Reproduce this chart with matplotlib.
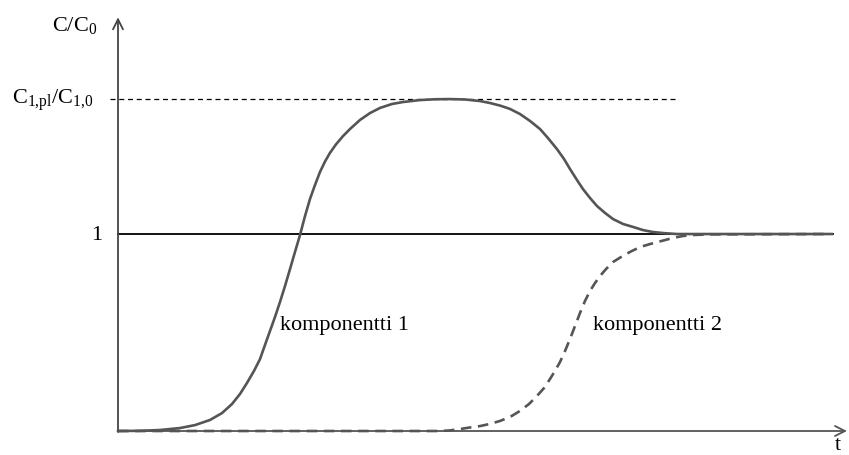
import matplotlib
matplotlib.use('Agg')
import matplotlib.pyplot as plt

plt.rcParams['font.family'] = ['Liberation Serif', 'DejaVu Serif']
plt.rcParams['mathtext.fontset'] = 'custom'
plt.rcParams['mathtext.rm'] = 'Liberation Serif'
plt.rcParams['mathtext.default'] = 'regular'

# breakthrough curves, time in arbitrary units, C/C0
t_comp1 = [0.0, 0.22, 0.42, 0.62, 0.77, 0.92, 1.04, 1.14, 1.22, 1.29, 1.36,
           1.42, 1.47, 1.52, 1.57, 1.62, 1.67, 1.72, 1.77, 1.82, 1.87, 1.92,
           1.97, 2.02, 2.07, 2.12, 2.18, 2.25, 2.32, 2.42, 2.52, 2.62, 2.74,
           2.85, 3.02, 3.17, 3.32, 3.47, 3.62, 3.72, 3.82, 3.92, 4.02, 4.12,
           4.22, 4.30, 4.39, 4.46, 4.52, 4.59, 4.65, 4.72, 4.79, 4.87, 4.95,
           5.05, 5.15, 5.25, 5.35, 5.47, 5.59, 7.12]
c_comp1 = [0.0, 0.001, 0.005, 0.015, 0.030, 0.056, 0.091, 0.137, 0.188,
           0.244, 0.305, 0.365, 0.437, 0.508, 0.579, 0.655, 0.736, 0.822,
           0.909, 0.995, 1.091, 1.178, 1.249, 1.315, 1.368, 1.412, 1.455,
           1.497, 1.533, 1.579, 1.614, 1.640, 1.660, 1.670, 1.680, 1.684,
           1.685, 1.683, 1.675, 1.665, 1.652, 1.635, 1.609, 1.574, 1.533,
           1.487, 1.431, 1.381, 1.330, 1.274, 1.228, 1.183, 1.142, 1.107,
           1.076, 1.051, 1.036, 1.020, 1.010, 1.004, 1.0, 1.0]

t_comp2 = [0.0, 3.22, 3.32, 3.42, 3.52, 3.62, 3.72, 3.82, 3.92, 4.02, 4.11,
           4.19, 4.26, 4.32, 4.37, 4.42, 4.47, 4.52, 4.57, 4.62, 4.67, 4.72,
           4.77, 4.82, 4.88, 4.95, 5.03, 5.12, 5.22, 5.32, 5.43, 5.55, 5.65,
           5.75, 5.92, 7.15]
c_comp2 = [0.0, 0.0, 0.003, 0.010, 0.018, 0.025, 0.036, 0.051, 0.071, 0.102,
           0.137, 0.178, 0.218, 0.264, 0.305, 0.350, 0.406, 0.467, 0.533,
           0.599, 0.660, 0.711, 0.751, 0.787, 0.822, 0.858, 0.883, 0.909,
           0.934, 0.949, 0.964, 0.980, 0.990, 0.995, 0.998, 1.0]

c_plateau = 1.685
c_feed = 1.0

fig = plt.figure(figsize=(8.49, 4.56), dpi=100)
ax = fig.add_axes([0, 0, 1, 1])
ax.set_xlim(-1.18, 7.31)
ax.set_ylim(-0.1218, 2.193)
ax.axis('off')

# reference levels
ax.plot([-0.08, 5.59], [c_plateau, c_plateau], color='black', lw=0.9,
        dashes=(4, 3))
ax.plot([0, 7.15], [c_feed, c_feed], color='black', lw=1.3)

ax.plot(t_comp1, c_comp1, color='#555555', lw=1.9,
        solid_capstyle='round', solid_joinstyle='round')
ax.plot(t_comp2, c_comp2, color='#555555', lw=1.9, dashes=(4, 2.5),
        dash_joinstyle='round')

# axes with arrow heads
ax.annotate('', xy=(0, 2.10), xytext=(0, -0.005),
            arrowprops=dict(arrowstyle='->', color='#444444', lw=1.3,
                            mutation_scale=18, shrinkA=0, shrinkB=0))
ax.annotate('', xy=(7.29, 0), xytext=(-0.005, 0),
            arrowprops=dict(arrowstyle='->', color='#555555', lw=1.3,
                            mutation_scale=18, shrinkA=0, shrinkB=0))

fs = 16
ax.text(-0.21, 2.066, r'C/C$_0$', fontsize=fs, ha='right', va='center')
ax.text(-0.25, c_plateau, r'C$_{1{,}pl}$/C$_{1{,}0}$', fontsize=fs,
        ha='right', va='center')
ax.text(-0.16, c_feed, '1', fontsize=fs, ha='right', va='center')
ax.text(7.20, -0.068, 't', fontsize=fs, ha='center', va='center')

ax.text(1.62, 0.543, 'komponentti 1', fontsize=fs, ha='left', va='center')
ax.text(4.75, 0.543, 'komponentti 2', fontsize=fs, ha='left', va='center')

fig.savefig('out.png', dpi=100)
